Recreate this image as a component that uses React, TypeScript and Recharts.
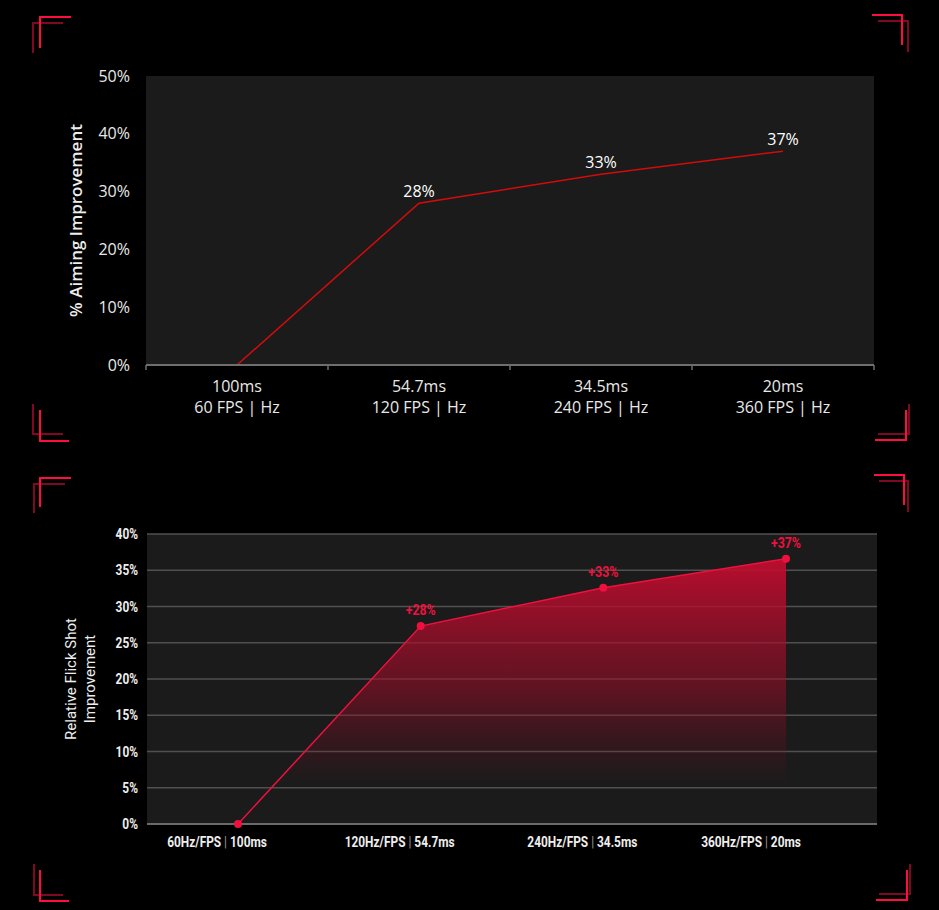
import React from 'react';
import { LineChart, Line, AreaChart, Area, XAxis, YAxis, CartesianGrid, LabelList } from 'recharts';

// ---------- Top chart data ----------
const topLatency = ['100ms', '54.7ms', '34.5ms', '20ms'];
const topRate = ['60 FPS | Hz', '120 FPS | Hz', '240 FPS | Hz', '360 FPS | Hz'];
const topValues = [0, 28, 33, 37];
const topPointLabels = ['', '28%', '33%', '37%'];
const topYTicks = [0, 10, 20, 30, 40, 50];

// ---------- Bottom chart data ----------
const bottomRate = ['60Hz/FPS', '120Hz/FPS', '240Hz/FPS', '360Hz/FPS'];
const bottomLatency = ['100ms', '54.7ms', '34.5ms', '20ms'];
const bottomValues = [0, 27.3, 32.6, 36.6];
const bottomPointLabels = ['', '+28%', '+33%', '+37%'];
const bottomYTicks = [0, 5, 10, 15, 20, 25, 30, 35, 40];

const topData = topLatency.map((lat, i) => ({ lat, rate: topRate[i], v: topValues[i], label: topPointLabels[i] }));
const bottomData = bottomRate.map((rate, i) => ({ rate, lat: bottomLatency[i], v: bottomValues[i], label: bottomPointLabels[i] }));

const TOP_FONT = "'Open Sans', 'Noto Sans', sans-serif";
const BOT_FONT = "Roboto, 'Noto Sans', sans-serif";
const RED = '#f0103f';
const SQUEEZE = 0.85;

const TopTick = (props: any) => {
  const { x, y, index } = props;
  const half = 91;
  return (
    <g>
      <line x1={x - half} y1={y} x2={x - half} y2={y + 5} stroke="#6e6e6e" strokeWidth={1.5} />
      {index === topLatency.length - 1 && (
        <line x1={x + half} y1={y} x2={x + half} y2={y + 5} stroke="#6e6e6e" strokeWidth={1.5} />
      )}
      <text x={x} y={y + 27} textAnchor="middle" fill="#e8e8e8" fontSize={16} fontFamily={TOP_FONT}>
        {topLatency[index]}
      </text>
      <text x={x} y={y + 48} textAnchor="middle" fill="#e8e8e8" fontSize={16} fontFamily={TOP_FONT}>
        {topRate[index]}
      </text>
    </g>
  );
};

const TopYLabel = (props: any) => {
  const vb = props.viewBox || { x: 0, y: 76, width: 146, height: 289 };
  const cx = vb.x + 75;
  const cy = vb.y + vb.height / 2;
  return (
    <text
      x={cx}
      y={cy}
      transform={`rotate(-90 ${cx} ${cy})`}
      textAnchor="middle"
      dominantBaseline="central"
      fill="#ededed"
      fontSize={17}
      fontWeight={600}
      fontFamily={TOP_FONT}
    >
      % Aiming Improvement
    </text>
  );
};

const BottomTick = (props: any) => {
  const { x, y, index } = props;
  const shift = index === bottomRate.length - 1 ? -35 : -21;
  return (
    <g transform={`translate(${x + shift},${y + 23}) scale(${SQUEEZE},1)`}>
      <text x={0} y={0} textAnchor="middle" fill="#eeeeee" fontSize={14} fontWeight={700} fontFamily={BOT_FONT}>
        <tspan>{bottomRate[index]} </tspan>
        <tspan fill="#9a9a9a" fontWeight={400}>|</tspan>
        <tspan> {bottomLatency[index]}</tspan>
      </text>
    </g>
  );
};

const BottomYTick = (props: any) => {
  const { x, y, payload } = props;
  return (
    <g transform={`translate(${x},${y}) scale(${SQUEEZE},1)`}>
      <text x={0} y={0} dy="0.36em" textAnchor="end" fill="#eeeeee" fontSize={14} fontWeight={700} fontFamily={BOT_FONT}>
        {`${payload.value}%`}
      </text>
    </g>
  );
};

const BottomPointLabel = (props: any) => {
  const { x, y, value } = props;
  if (!value) return null;
  return (
    <g transform={`translate(${x},${y - 11}) scale(${SQUEEZE},1)`}>
      <text x={0} y={0} textAnchor="middle" fill={RED} fontSize={14.5} fontWeight={700} fontFamily={BOT_FONT}>
        {value}
      </text>
    </g>
  );
};

const BottomYLabel = (props: any) => {
  const vb = props.viewBox || { x: 0, y: 534, width: 147, height: 290 };
  const cy = vb.y + vb.height / 2;
  const x1 = vb.x + 71;
  const x2 = vb.x + 90;
  return (
    <g>
      <text x={x1} y={cy} transform={`rotate(-90 ${x1} ${cy})`} textAnchor="middle" dominantBaseline="central"
        fill="#eeeeee" fontSize={15} fontFamily={BOT_FONT}>
        Relative Flick Shot
      </text>
      <text x={x2} y={cy} transform={`rotate(-90 ${x2} ${cy})`} textAnchor="middle" dominantBaseline="central"
        fill="#eeeeee" fontSize={15} fontFamily={BOT_FONT}>
        Improvement
      </text>
    </g>
  );
};

const Brackets = () => {
  const dark = '#7d0a22';
  const bright = '#ff0d40';
  const darkLines = [
    '63,23 33,23 33,53',
    '878,21 908,21 908,52',
    '33,404 33,434 63,434',
    '909,404 909,434 878,434',
    '65,484 34,484 34,513',
    '879,481 908,481 908,512',
    '34,864 34,895 63,895',
    '910,864 910,894 879,894',
  ];
  const brightLines = [
    '71,17 40,17 40,48',
    '872,15 902,15 902,45',
    '40,410 40,441 69,441',
    '906,410 906,440 875,440',
    '71,478 40,478 40,507',
    '874,475 904,475 904,505',
    '40,870 40,901 69,901',
    '907,870 907,900 876,900',
  ];
  return (
    <svg width={939} height={910} style={{ position: 'absolute', left: 0, top: 0, pointerEvents: 'none' }}>
      {darkLines.map((p, i) => (
        <polyline key={'d' + i} points={p} fill="none" stroke={dark} strokeWidth={2} strokeLinejoin="miter" />
      ))}
      {brightLines.map((p, i) => (
        <polyline key={'b' + i} points={p} fill="none" stroke={bright} strokeWidth={2} strokeLinejoin="miter" />
      ))}
    </svg>
  );
};

export default function App() {
  return (
    <div style={{ position: 'absolute', left: 0, top: 0, width: 939, height: 910, background: '#000', overflow: 'hidden' }}>
      <div style={{ position: 'absolute', left: 0, top: 0 }}>
        <LineChart width={939} height={450} data={topData} margin={{ top: 76, right: 65, bottom: 25, left: 0 }}>
          <CartesianGrid fill="#1b1b1b" horizontal={false} vertical={false} stroke="none" />
          <XAxis
            dataKey="lat"
            padding={{ left: 91, right: 91 }}
            axisLine={{ stroke: '#6e6e6e', strokeWidth: 2 }}
            tickLine={false}
            tickSize={0}
            tickMargin={0}
            tick={<TopTick />}
            height={60}
            interval={0}
          />
          <YAxis
            domain={[0, 50]}
            ticks={topYTicks}
            width={146}
            axisLine={false}
            tickLine={false}
            tickSize={0}
            tickMargin={16}
            tick={{ fill: '#e8e8e8', fontSize: 16, fontFamily: TOP_FONT }}
            tickFormatter={(v: number) => `${v}%`}
            label={(p: any) => <TopYLabel {...p} />}
          />
          <Line type="linear" dataKey="v" stroke="#d40b0b" strokeWidth={1.5} dot={false} activeDot={false} isAnimationActive={false}>
            <LabelList dataKey="label" position="top" offset={6} fill="#ffffff" fontSize={16} fontFamily={TOP_FONT} />
          </Line>
        </LineChart>
      </div>
      <div style={{ position: 'absolute', left: 0, top: 450 }}>
        <AreaChart width={939} height={460} data={bottomData} margin={{ top: 84, right: 62, bottom: 46, left: 0 }}>
          <defs>
            <linearGradient id="flickFill" x1="0" y1="0" x2="0" y2="1">
              <stop offset="0%" stopColor="#c20d2f" stopOpacity={0.95} />
              <stop offset="50%" stopColor="#a00c28" stopOpacity={0.5} />
              <stop offset="85%" stopColor="#800a20" stopOpacity={0} />
            </linearGradient>
          </defs>
          <CartesianGrid fill="#1b1b1b" vertical={false} stroke="#505050" strokeWidth={1.5} />
          <XAxis
            dataKey="rate"
            padding={{ left: 91, right: 91 }}
            axisLine={{ stroke: '#6a6a6a', strokeWidth: 2 }}
            tickLine={false}
            tickSize={0}
            tickMargin={0}
            tick={<BottomTick />}
            height={40}
            interval={0}
          />
          <YAxis
            domain={[0, 40]}
            ticks={bottomYTicks}
            width={147}
            axisLine={false}
            tickLine={false}
            tickSize={0}
            tickMargin={9}
            tick={<BottomYTick />}
            label={(p: any) => <BottomYLabel {...p} />}
          />
          <Area
            type="linear"
            dataKey="v"
            stroke={RED}
            strokeWidth={1.5}
            fill="url(#flickFill)"
            fillOpacity={1}
            dot={{ r: 4, fill: RED, stroke: 'none' }}
            activeDot={false}
            isAnimationActive={false}
          >
            <LabelList dataKey="label" content={(p: any) => <BottomPointLabel {...p} />} />
          </Area>
        </AreaChart>
      </div>
      <Brackets />
    </div>
  );
}
